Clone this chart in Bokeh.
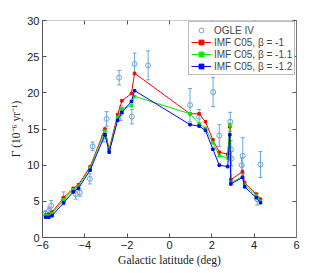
from bokeh.plotting import figure
from bokeh.models import LinearAxis, Legend, LegendItem, FixedTicker, Range1d
from bokeh.embed import file_html
from bokeh.resources import INLINE

# OGLE IV measurements
ogle_b = [-5.86, -5.70, -5.59, -5.00, -4.43, -4.24, -3.76, -3.63, -3.10, -2.97, -2.38, -2.30,
          -1.78, -1.65, -1.01, 0.97, 1.40, 2.06, 2.35, 2.87, 2.90, 2.93, 3.41, 3.46, 4.14, 4.30]
ogle_g = [3.3, 3.7, 4.4, 5.4, 6.0, 6.2, 8.1, 12.6, 14.0, 16.4, 22.1, 17.2,
          16.7, 24.0, 23.8, 18.3, 16.7, 20.1, 14.1, 16.0, 12.2, 10.9, 10.0, 11.3, 5.3, 10.1]
ogle_err = [0.4, 0.5, 0.7, 0.9, 0.7, 0.5, 0.7, 0.6, 0.8, 1.0, 1.0, 1.0,
            1.0, 1.5, 2.0, 2.3, 1.0, 2.0, 1.5, 1.3, 1.2, 1.0, 1.0, 2.5, 0.8, 1.8]

# model latitudes and rates
model_b = [-5.85, -5.70, -5.55, -5.00, -4.55, -4.30, -3.75, -3.05, -2.85, -2.45, -2.25, -1.80, -1.65,
           0.97, 1.40, 1.70, 2.05, 2.35, 2.75, 2.85, 2.90, 3.45, 3.55, 4.10, 4.30]
beta_10 = [3.1, 3.2, 3.5, 5.5, 6.8, 7.3, 9.8, 15.0, 12.2, 17.0, 18.9, 19.9, 22.7,
           17.1, 17.1, 16.0, 13.5, 11.8, 11.5, 15.3, 8.0, 9.1, 7.6, 6.0, 5.3]
beta_11 = [3.0, 3.0, 3.3, 5.2, 6.6, 7.1, 9.6, 14.7, 12.0, 16.6, 17.8, 18.2, 19.5,
           17.1, 15.7, 15.1, 13.1, 11.3, 11.0, 15.6, 7.6, 8.4, 7.3, 5.8, 5.0]
beta_12 = [2.8, 2.8, 3.0, 4.8, 6.3, 6.8, 9.3, 14.2, 11.8, 16.2, 17.3, 18.8, 20.3,
           15.6, 15.4, 14.8, 12.2, 10.0, 9.8, 14.2, 7.4, 8.3, 7.0, 5.5, 4.8]

labels = ["OGLE IV", "IMF C05, \u03b2 = -1", "IMF C05, \u03b2 = -1.1", "IMF C05, \u03b2 = -1.2"]
x_ticks = [-6, -4, -2, 0, 2, 4, 6]
y_ticks = [0, 5, 10, 15, 20, 25, 30]

ogle_color = "#6aa6d8"

p = figure(width=310, height=268, output_backend="svg", toolbar_location=None,
           x_range=Range1d(-6, 6), y_range=Range1d(0, 30),
           min_border_left=42, min_border_top=20, min_border_right=14, min_border_bottom=29)
p.grid.visible = False
p.outline_line_color = None

def style_axis(ax):
    ax.axis_line_color = "#555555"
    ax.major_tick_line_color = "#555555"
    ax.major_tick_in = 4
    ax.major_tick_out = 0
    ax.minor_tick_line_color = None
    ax.major_label_text_font = "Liberation Sans"
    ax.major_label_text_font_size = "11px"
    ax.major_label_text_color = "#222222"
    ax.major_label_standoff = 3

p.xaxis.ticker = FixedTicker(ticks=x_ticks)
p.yaxis.ticker = FixedTicker(ticks=y_ticks)
style_axis(p.xaxis[0])
style_axis(p.yaxis[0])
p.xaxis.axis_label = "Galactic latitude (deg)"
p.yaxis.axis_label = "\u0393 (10\u207b\u2076 yr\u207b\u00b9)"
for ax in (p.xaxis[0], p.yaxis[0]):
    ax.axis_label_text_font = "Liberation Serif"
    ax.axis_label_text_font_style = "normal"
    ax.axis_label_text_font_size = "11.5px"
    ax.axis_label_text_color = "#222222"
    ax.axis_label_standoff = 2

top = LinearAxis(ticker=FixedTicker(ticks=x_ticks))
right = LinearAxis(ticker=FixedTicker(ticks=y_ticks))
for ax in (top, right):
    ax.axis_line_color = "#777777"
    ax.major_tick_line_color = "#555555"
    ax.major_tick_in = 4
    ax.major_tick_out = 0
    ax.minor_tick_line_color = None
    ax.major_label_standoff = 0
    ax.major_label_overrides = {t: "" for t in (x_ticks if ax is top else y_ticks)}
top.axis_line_color = "#cccccc"
p.add_layout(top, "above")
p.add_layout(right, "right")

# OGLE error bars
lo = [g - e for g, e in zip(ogle_g, ogle_err)]
hi = [g + e for g, e in zip(ogle_g, ogle_err)]
p.segment(x0=ogle_b, y0=lo, x1=ogle_b, y1=hi, line_color=ogle_color, line_width=1)
p.scatter(x=ogle_b, y=lo, marker="dash", size=4, line_color=ogle_color)
p.scatter(x=ogle_b, y=hi, marker="dash", size=4, line_color=ogle_color)
r_ogle = p.scatter(x=ogle_b, y=ogle_g, marker="circle", size=5, fill_color=None,
                   line_color=ogle_color, line_width=1)

renderers = []
for vals, col in [(beta_10, "#ff0000"), (beta_11, "#00ee00"), (beta_12, "#0000ff")]:
    rl = p.line(x=model_b, y=vals, line_color=col, line_width=1)
    rm = p.scatter(x=model_b, y=vals, marker="square", size=2.5, fill_color=col, line_color=col)
    renderers.append([rl, rm])

legend = Legend(items=[LegendItem(label=labels[0], renderers=[r_ogle])] +
                [LegendItem(label=labels[i + 1], renderers=renderers[i]) for i in range(3)],
                location=(146, 162))
legend.label_text_font = "Liberation Sans"
legend.label_text_font_size = "10px"
legend.label_height = 12
legend.glyph_height = 12
legend.glyph_width = 20
legend.spacing = 0
legend.padding = 2
legend.margin = 0
legend.label_standoff = 3
legend.border_line_color = "#777777"
legend.background_fill_alpha = 1
p.add_layout(legend)

open("out.html", "w").write(file_html(p, INLINE))
